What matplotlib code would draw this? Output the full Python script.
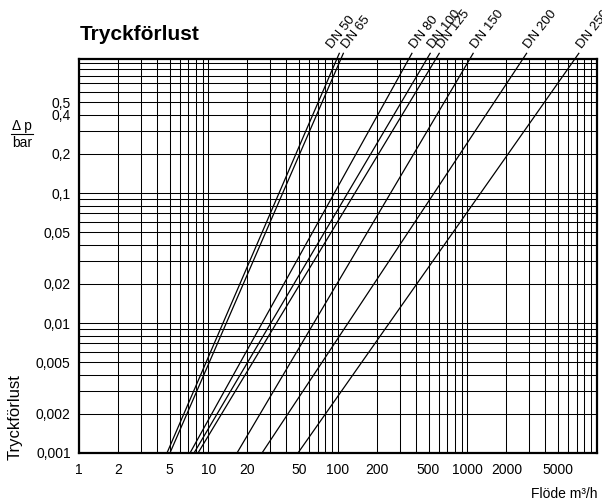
import numpy as np
import matplotlib.pyplot as plt
from matplotlib.ticker import LogLocator, FixedLocator, FixedFormatter, NullFormatter
from matplotlib.lines import Line2D

plt.rcParams['font.family'] = ['Liberation Sans', 'DejaVu Sans']

# flow (m3/h) where each curve meets dp = 0.001 bar and the top edge of the grid
dn_labels = ['DN 50', 'DN 65', 'DN 80', 'DN 100', 'DN 125', 'DN 150', 'DN 200', 'DN 250']
flow_low = [4.78, 5.04, 7.2, 7.73, 8.3, 16.6, 25.9, 49.1]
flow_high = [98.2, 105.5, 353, 487, 571, 1045, 2684, 6765]
dp_low = 0.001
dp_high = 1.08

x_ticks = [1, 2, 5, 10, 20, 50, 100, 200, 500, 1000, 2000, 5000]
y_ticks = [0.001, 0.002, 0.005, 0.01, 0.02, 0.05, 0.1, 0.2, 0.4, 0.5]
y_ticklabels = ['0,001', '0,002', '0,005', '0,01', '0,02', '0,05', '0,1', '0,2', '0,4', '0,5']

# sideways nudge (points) for the crowded labels
label_dx = {'DN 50': -5.5, 'DN 65': 2.5}

fig = plt.figure(figsize=(6.02, 5.04), dpi=100)
ax = fig.add_axes([0.1312, 0.1012, 0.8605, 0.7823])
ax.set_xscale('log')
ax.set_yscale('log')
ax.set_xlim(1, 10000)
ax.set_ylim(dp_low, dp_high)

# leader lines poke out a little above the frame
dp_ext = dp_high * 1.1
for lab, lo, hi in zip(dn_labels, flow_low, flow_high):
    ax.plot([lo, hi], [dp_low, dp_high], color='black', lw=0.9)
    slope = (np.log10(hi) - np.log10(lo)) / (np.log10(dp_high) - np.log10(dp_low))
    q_ext = 10 ** (np.log10(hi) + slope * (np.log10(dp_ext) - np.log10(dp_high)))
    ax.plot([hi, q_ext], [dp_high, dp_ext], color='black', lw=0.9, clip_on=False)
    ax.annotate(lab, xy=(q_ext, dp_ext), xytext=(label_dx.get(lab, 2.0), 3),
                textcoords='offset points', rotation=52, rotation_mode='anchor',
                ha='left', va='baseline', fontsize=9.5, annotation_clip=False)

ax.xaxis.set_major_locator(FixedLocator(x_ticks))
ax.xaxis.set_major_formatter(FixedFormatter([str(v) for v in x_ticks]))
ax.xaxis.set_minor_locator(LogLocator(base=10, subs=np.arange(1, 10), numticks=50))
ax.xaxis.set_minor_formatter(NullFormatter())
ax.yaxis.set_major_locator(FixedLocator(y_ticks))
ax.yaxis.set_major_formatter(FixedFormatter(y_ticklabels))
ax.yaxis.set_minor_locator(LogLocator(base=10, subs=np.arange(1, 10), numticks=50))
ax.yaxis.set_minor_formatter(NullFormatter())

ax.grid(which='both', color='black', lw=0.75)
ax.tick_params(which='both', length=0, labelsize=10)
ax.tick_params(axis='x', pad=7)
ax.tick_params(axis='y', pad=6)
for sp in ax.spines.values():
    sp.set_linewidth(1.6)

fig.text(0.133, 0.921, 'Tryckförlust', fontsize=15, fontweight='bold', ha='left', va='baseline')
fig.text(0.037, 0.743, 'Δ p', fontsize=10, ha='center', va='baseline')
fig.add_artist(Line2D([0.018, 0.055], [0.734, 0.734], color='black', lw=0.8))
fig.text(0.037, 0.708, 'bar', fontsize=10, ha='center', va='baseline')
fig.text(0.025, 0.088, 'Tryckförlust', fontsize=12, rotation=90, ha='center', va='bottom')
fig.text(0.993, 0.012, 'Flöde m³/h', fontsize=10, ha='right', va='baseline')

plt.savefig('out.png', dpi=100)
